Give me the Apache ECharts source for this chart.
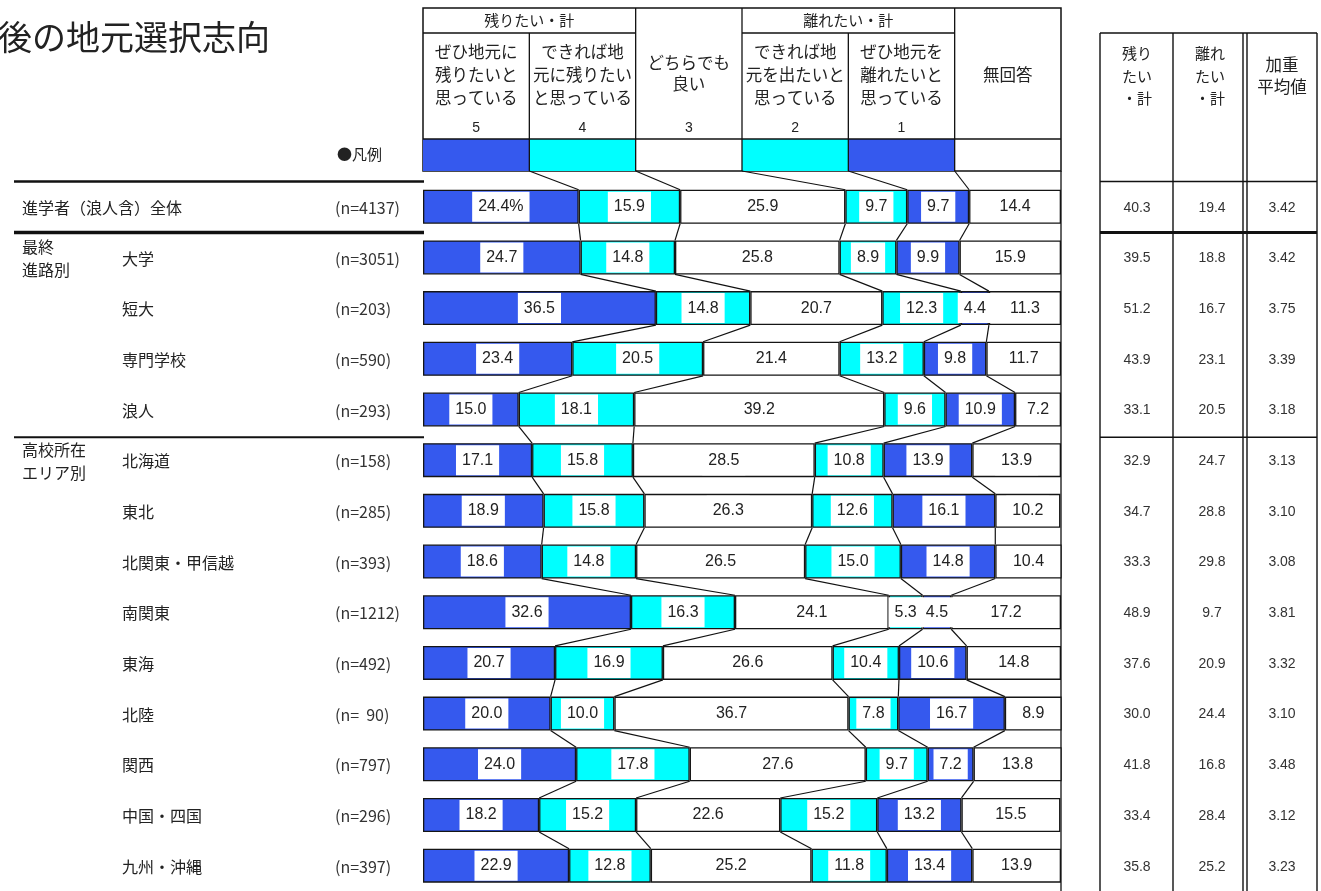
<!DOCTYPE html>
<html><head><meta charset="utf-8">
<script src="https://cdn.jsdelivr.net/npm/echarts@6/dist/echarts.min.js"></script>
<style>html,body{margin:0;padding:0;background:#fff}#c{width:1321px;height:891px}</style>
</head><body><div id="c"></div><script>
// ---------- data ----------
const categories = ['進学者（浪人含）全体','大学','短大','専門学校','浪人','北海道','東北','北関東・甲信越','南関東','東海','北陸','関西','中国・四国','九州・沖縄'];
const groupNames = ['', '最終\n進路別', '', '', '', '高校所在\nエリア別', '', '', '', '', '', '', '', ''];
const nLabels = ['(n=4137)','(n=3051)','(n=203)','(n=590)','(n=293)','(n=158)','(n=285)','(n=393)','(n=1212)','(n=492)','(n=  90)','(n=797)','(n=296)','(n=397)'];
const s5  = [24.4,24.7,36.5,23.4,15.0,17.1,18.9,18.6,32.6,20.7,20.0,24.0,18.2,22.9];
const s4  = [15.9,14.8,14.8,20.5,18.1,15.8,15.8,14.8,16.3,16.9,10.0,17.8,15.2,12.8];
const s3  = [25.9,25.8,20.7,21.4,39.2,28.5,26.3,26.5,24.1,26.6,36.7,27.6,22.6,25.2];
const s2  = [9.7,8.9,12.3,13.2,9.6,10.8,12.6,15.0,5.3,10.4,7.8,9.7,15.2,11.8];
const s1  = [9.7,9.9,4.4,9.8,10.9,13.9,16.1,14.8,4.5,10.6,16.7,7.2,13.2,13.4];
const sNA = [14.4,15.9,11.3,11.7,7.2,13.9,10.2,10.4,17.2,14.8,8.9,13.8,15.5,13.9];
const remainTotal  = [40.3,39.5,51.2,43.9,33.1,32.9,34.7,33.3,48.9,37.6,30.0,41.8,33.4,35.8];
const leaveTotal   = [19.4,18.8,16.7,23.1,20.5,24.7,28.8,29.8,9.7,20.9,24.4,16.8,28.4,25.2];
const weightedMean = [3.42,3.42,3.75,3.39,3.18,3.13,3.10,3.08,3.81,3.32,3.10,3.48,3.12,3.23];
const answerLabels = ['ぜひ地元に\n残りたいと\n思っている','できれば地\n元に残りたい\nと思っている','どちらでも\n良い','できれば地\n元を出たいと\n思っている','ぜひ地元を\n離れたいと\n思っている','無回答'];
const scoreLabels = ['5','4','3','2','1',''];
const groupHeaders = ['残りたい・計','離れたい・計'];
const rightHeaders = ['残り\nたい\n・計','離れ\nたい\n・計','加重\n平均値'];
const title = '後の地元選択志向';
const legendTitle = '●凡例';

// ---------- style / layout ----------
const BLUE = '#3559EE', CYAN = '#00FFFF', WHITE = '#FFFFFF';
const segColors = [BLUE, CYAN, WHITE, CYAN, BLUE, WHITE];
const segs = [s5, s4, s3, s2, s1, sNA];
const segNames = ['5','4','3','2','1','無回答'];
const GL = 423, GW = 638, GT = 181.4, GH = 716.2;
const BAND = GH / categories.length;
const BAR_W = 34;
const HT = 8, HMID = 33, HNUM = 139, HB = 171;
const JP = '"Noto Sans CJK JP", sans-serif';
const NUMF = '"Liberation Sans", Arial, sans-serif';
const colW = GW / 6;

const cum = categories.map((_, i) => {
  const c = [0]; let s = 0;
  segs.forEach(a => { s += a[i]; c.push(s); });
  return c;
});

function txt(x, y, text, size, opts) {
  opts = opts || {};
  return {
    type: 'text', x: x, y: y, silent: true,
    style: {
      text: text, fill: opts.fill || '#222',
      font: (opts.weight || 'normal') + ' ' + size + 'px ' + (opts.family || JP),
      align: opts.align || 'center', verticalAlign: 'middle',
      textAlign: opts.align || 'center', textVerticalAlign: 'middle',
      lineHeight: opts.lh || Math.round(size * 1.3)
    }
  };
}
function ln(x1, y1, x2, y2, w, c) {
  return { type: 'line', silent: true, shape: { x1, y1, x2, y2 }, style: { stroke: c || '#111', lineWidth: w || 1.3 } };
}

const g = [];
// title & legend caption
g.push(txt(-2, 37, title, 34, { align: 'left', fill: '#222' }));
g.push(txt(337, 154, legendTitle, 15, { align: 'left' }));
// header table
g.push({ type: 'rect', silent: true, shape: { x: GL, y: HT, width: GW, height: HB - HT }, style: { fill: 'none', stroke: '#111', lineWidth: 1.5 } });
for (let k = 0; k < 6; k++) {
  if (segColors[k] !== WHITE) {
    g.push({ type: 'rect', silent: true, shape: { x: GL + k * colW, y: HNUM, width: colW, height: HB - HNUM }, style: { fill: segColors[k] } });
  }
}
g.push(ln(GL, HNUM, GL + GW, HNUM, 1.5));
g.push(ln(GL, HMID, GL + 2 * colW, HMID, 1.3));
g.push(ln(GL + 3 * colW, HMID, GL + 5 * colW, HMID, 1.3));
[1, 2, 3, 4, 5].forEach(k => {
  const top = (k === 1 || k === 4) ? HMID : HT;
  g.push(ln(GL + k * colW, top, GL + k * colW, HB, 1.3));
});
g.push(txt(GL + colW, 20, groupHeaders[0], 15));
g.push(txt(GL + 4 * colW, 20, groupHeaders[1], 15));
answerLabels.forEach((t, k) => {
  const lines = t.split('\n').length;
  g.push(txt(GL + (k + 0.5) * colW, lines === 3 ? 75 : (lines === 2 ? 73 : 75), t, 16.5, { lh: lines === 2 ? 21 : 23 }));
  if (scoreLabels[k]) g.push(txt(GL + (k + 0.5) * colW, 128, scoreLabels[k], 14, { family: NUMF }));
});
g.push(ln(GL + GW, HB, GL + GW, 891, 1.3));
// left rules
g.push(ln(14, GT, GL + 1, GT, 2.5));
g.push(ln(14, GT + BAND, GL + 1, GT + BAND, 3.5));
g.push(ln(14, GT + 5 * BAND, GL + 1, GT + 5 * BAND, 2));
// right table
const RX = [1100, 1173, 1243, 1247, 1317];
RX.forEach(x => g.push(ln(x, 33, x, 891, 1.4)));
g.push(ln(1100, 33, 1317, 33, 1.4));
g.push(ln(1100, GT, 1317, GT, 1.5));
g.push(ln(1100, GT + BAND, 1317, GT + BAND, 3));
g.push(ln(1100, GT + 5 * BAND, 1317, GT + 5 * BAND, 1.5));
const RC = [1137, 1210, 1282];
g.push(txt(RC[0], 76, rightHeaders[0], 15, { lh: 22.5 }));
g.push(txt(RC[1], 76, rightHeaders[1], 15, { lh: 22.5 }));
g.push(txt(RC[2], 76, rightHeaders[2], 16.5, { lh: 22 }));

// ---------- series ----------
const barSeries = segs.map((arr, k) => ({
  type: 'bar', name: segNames[k], stack: 'all', barWidth: BAR_W, z: 3,
  data: arr,
  itemStyle: { color: segColors[k], borderColor: '#151515', borderWidth: 1.3 },
  label: {
    show: true, position: 'inside', color: '#222', fontSize: 16, fontFamily: NUMF,
    backgroundColor: '#fff', padding: [6, 6, 6, 6], lineHeight: 18,
    formatter: p => (k === 0 && p.dataIndex === 0) ? p.value.toFixed(1) + '%' : p.value.toFixed(1)
  },
  emphasis: { disabled: true }
}));

const connector = {
  type: 'custom', z: 2, silent: true, clip: false,
  data: categories.map((_, i) => [0, i]),
  renderItem: (params, api) => {
    const j = params.dataIndex, half = BAR_W / 2, ch = [];
    for (let k = 1; k <= 5; k++) {
      let x0, y0;
      if (j === 0) { x0 = api.coord([k * 100 / 6, 0])[0]; y0 = HB; }
      else { const p = api.coord([cum[j - 1][k], j - 1]); x0 = p[0]; y0 = p[1] + half; }
      const q = api.coord([cum[j][k], j]);
      ch.push({ type: 'line', shape: { x1: x0, y1: y0, x2: q[0], y2: q[1] - half }, style: { stroke: '#111', lineWidth: 1.2 } });
    }
    return { type: 'group', children: ch };
  }
};

function ctext(x, y, text, size, align, family, fill, lh) {
  return { type: 'text', x: x, y: y, style: { text: text, fill: fill || '#222', font: size + 'px ' + (family || JP), align: align, verticalAlign: 'middle', textAlign: align, textVerticalAlign: 'middle', lineHeight: lh || Math.round(size * 1.3) } };
}
const rowText = {
  type: 'custom', z: 4, silent: true, clip: false,
  data: categories.map((_, i) => [0, i]),
  renderItem: (params, api) => {
    const j = params.dataIndex;
    const y = api.coord([0, j])[1];
    const ch = [];
    ch.push(ctext(j === 0 ? 22 : 122, y + 1, categories[j], 16, 'left'));
    ch.push(ctext(335, y + 1, nLabels[j], 16, 'left', JP, '#333'));
    if (groupNames[j]) ch.push(ctext(22, y + 1, groupNames[j], 16, 'left', JP, '#222', 23));
    ch.push(ctext(RC[0], y + 1, remainTotal[j].toFixed(1), 14, 'center', NUMF, '#333'));
    ch.push(ctext(RC[1] + 2, y + 1, leaveTotal[j].toFixed(1), 14, 'center', NUMF, '#333'));
    ch.push(ctext(RC[2], y + 1, weightedMean[j].toFixed(2), 14, 'center', NUMF, '#333'));
    return { type: 'group', children: ch };
  }
};

const chart = echarts.init(document.getElementById('c'));
chart.setOption({
  backgroundColor: '#fff',
  animation: false,
  grid: { left: GL, top: GT, width: GW, height: GH, containLabel: false },
  xAxis: { type: 'value', min: 0, max: 100, show: false },
  yAxis: { type: 'category', data: categories, inverse: true, show: false },
  graphic: { elements: g },
  series: [connector].concat(barSeries, [rowText])
});
</script></body></html>
